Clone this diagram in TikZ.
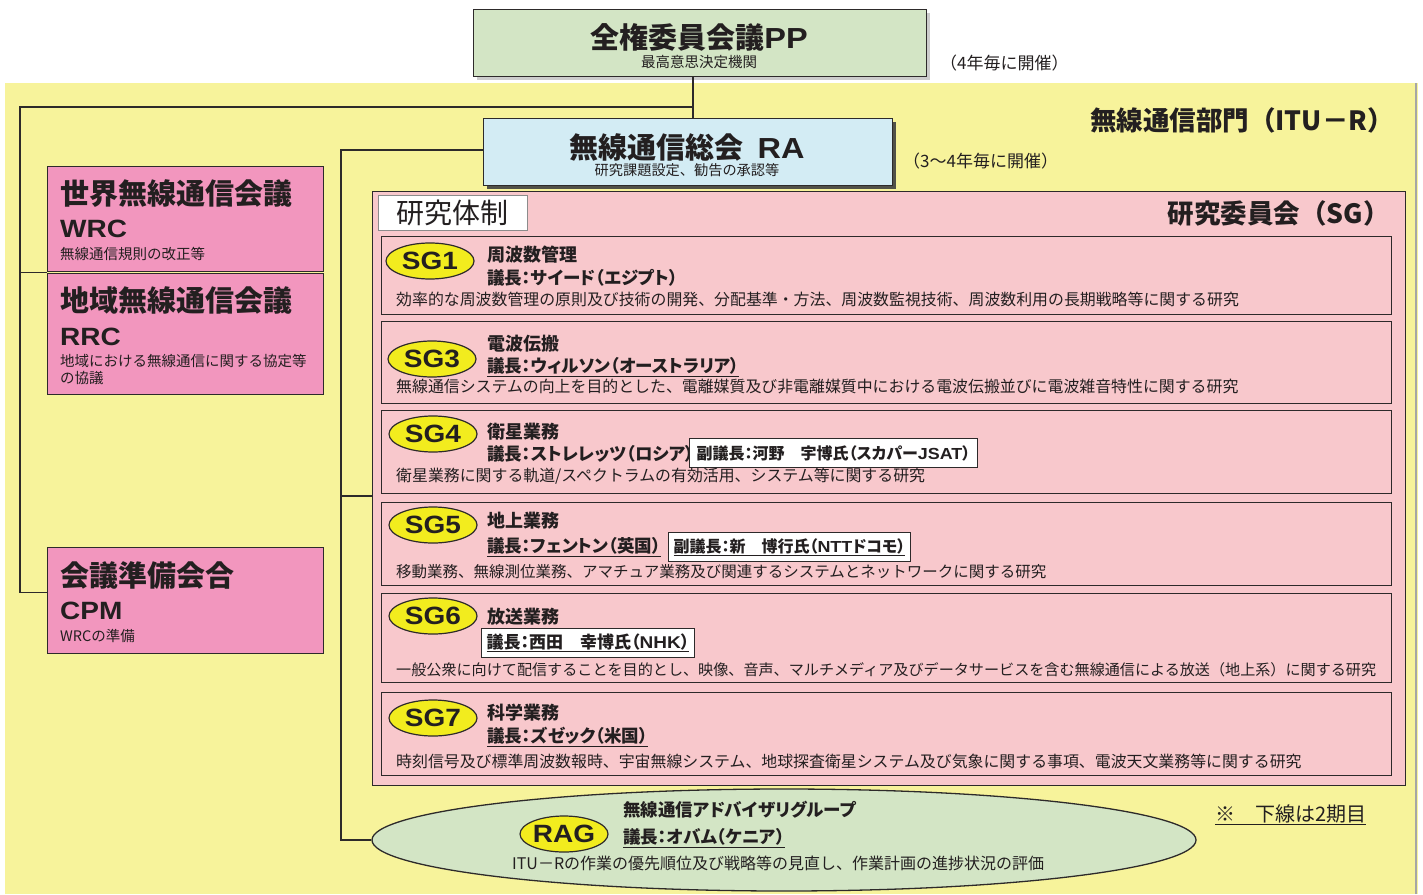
\documentclass[tikz,border=0pt]{standalone}
\usepackage{fontspec}
\setmainfont{Noto Sans CJK JP}
\newfontfamily\jpp{Noto Sans CJK JP}[RawFeature=+palt]
\newfontfamily\lat{Liberation Sans}[FakeStretch=1.12]
\usetikzlibrary{shapes.geometric,shadows}
\definecolor{ybg}{RGB}{247,243,155}
\definecolor{ppg}{RGB}{211,229,197}
\definecolor{rab}{RGB}{211,236,244}
\definecolor{pk}{RGB}{242,150,190}
\definecolor{sgp}{RGB}{248,200,204}
\definecolor{ey}{RGB}{242,236,30}
\definecolor{lc}{RGB}{45,42,42}
\definecolor{tx}{RGB}{35,31,32}
\newcommand{\fsz}[1]{\fontsize{#1}{#1}\selectfont}
\tikzset{
  box/.style={draw=lc, line width=1.3pt, anchor=north west, inner sep=0pt},
  conn/.style={draw=lc, line width=1.5pt},
  tl/.style={anchor=west, inner sep=0pt, text=tx},
  tc/.style={anchor=center, inner sep=0pt, text=tx},
  ttl/.style={tl, font=\jpp\bfseries\fsz{18}},
  chair/.style={tl, font=\jpp\bfseries\fsz{17.5}},
  desc/.style={tl, font=\fsz{15.9}},
  sge/.style={ellipse, draw=lc, line width=1.2pt, fill=ey, minimum width=88, minimum height=36, inner sep=0pt, font=\lat\bfseries\fsz{25}, text=tx},
  vbox/.style={draw=lc, line width=1pt, fill=white, inner xsep=5pt, inner ysep=0pt, minimum height=29, anchor=west, font=\jpp\bfseries\fsz{16}, text=tx},
  big/.style={tl, font=\bfseries\fsz{29}},
  abbr/.style={tl, font=\lat\bfseries\fsz{25}},
  small/.style={tl, font=\fsz{14.5}},
}
\begin{document}
\begin{tikzpicture}[x=1pt,y=-1pt]
\useasboundingbox (0,0) rectangle (1423,894);
% yellow background (ITU-R)
\fill[ybg] (5,83) rectangle (1418,894);
\draw[black!35, line width=1.2pt] (1416,83) -- (1416,894);
\node[tl, anchor=east, font=\bfseries\fsz{26.5}] (itur) at (1394,120) {無線通信部門（ITU－R）};

% boxes
\node[box, fill=ppg, minimum width=453, minimum height=67, drop shadow={fill=black!20, shadow xshift=3pt, shadow yshift=-3pt, opacity=1}] (pp) at (473,9) {};
\node[box, fill=rab, minimum width=409, minimum height=67] (ra) at (483,118) {};

% left boxes
\node[box, fill=pk, minimum width=276, minimum height=105] (wrc) at (47,166) {};
\node[box, fill=pk, minimum width=276, minimum height=121] (rrc) at (47,273) {};
\node[box, fill=pk, minimum width=276, minimum height=106] (cpm) at (47,547) {};

% SG outer box
\node[box, fill=sgp, minimum width=1033, minimum height=594] (sg) at (372,191) {};

% RAG ellipse
\node[ellipse, draw=lc, line width=1.3pt, fill=ppg, minimum width=824, minimum height=102, inner sep=0pt] (rag) at (784,840) {};

% connectors
\coordinate (j1) at (693,107);
\coordinate (lb) at (20,107);
\coordinate (rb) at (341,150);
\path ([yshift=8pt]cpm.west) coordinate (cpmc);
\path ([yshift=-7.5pt]sg.west) coordinate (sgc);
\draw[conn] (pp.south -| j1) -- (ra.north -| j1);
\draw[conn] (j1) -- (lb) |- (cpmc);
\draw[conn] (lb |- wrc.south) -- (wrc.south west);
\draw[conn] (ra.west |- rb) -- (rb) |- (rag.west);
\draw[conn] (rb |- sgc) -- (sgc);

% RA box on top with shadow
\node[box, fill=rab, minimum width=409, minimum height=67, drop shadow={fill=black!75, shadow xshift=3pt, shadow yshift=-3pt, opacity=0.9}] (ra2) at (483,118) {};

% PP texts
\node[tc, font=\bfseries\fsz{29}] (ppt) at (699,37) {全権委員会議\lat PP};
\node[tc, font=\fsz{14.5}] (pps) at (699,62) {最高意思決定機関};
\node[tl, font=\fsz{17}] (pp4) at (940,63) {（4年毎に開催）};

% RA texts
\node[tc, font=\bfseries\fsz{29}] (rat) at (687,147) {無線通信総会\hspace{14pt}{\lat RA}};
\node[tc, font=\fsz{14.2}] (ras) at (687,170) {研究課題設定、勧告の承認等};
\node[tl, font=\fsz{17}] (ra34) at (903,161) {（3～4年毎に開催）};

% left texts
\node[big] (wrct) at (60,194) {世界無線通信会議};
\node[abbr] (wrca) at (60,229) {WRC};
\node[small] (wrcd) at (60,254) {無線通信規則の改正等};
\node[big] (rrct) at (60,300) {地域無線通信会議};
\node[abbr] (rrca) at (60,337) {RRC};
\node[small] (rrcd1) at (60,361) {地域における無線通信に関する協定等};
\node[small] (rrcd2) at (60,378) {の協議};
\node[big] (cpmt) at (60,575) {会議準備会合};
\node[abbr] (cpma) at (60,611) {CPM};
\node[small] (cpmd) at (60,636) {WRCの準備};

% SG header
\node[draw=black!45, line width=0.8pt, fill=white, minimum width=149, minimum height=35, inner sep=0pt, font=\fsz{28}, text=tx] (kt) at (452.5,212.5) {研究体制};
\node[tl, anchor=east, font=\bfseries\fsz{26.5}] (sgt) at (1390,213) {研究委員会（SG）};

% rows
\node[box, minimum width=1010, minimum height=78] (r1) at (381,236) {};
\node[box, minimum width=1010, minimum height=82] (r3) at (381,321) {};
\node[box, minimum width=1010, minimum height=83] (r4) at (381,410) {};
\node[box, minimum width=1010, minimum height=83] (r5) at (381,502) {};
\node[box, minimum width=1010, minimum height=89] (r6) at (381,593) {};
\node[box, minimum width=1010, minimum height=83] (r7) at (381,692) {};

% SG1
\node[sge] (e1) at (430,261) {SG1};
\node[ttl] (t1) at (487,255) {周波数管理};
\node[chair] (c1) at (487,278) {議長：サイード（エジプト）};
\node[desc] (d1) at (396,299) {効率的な周波数管理の原則及び技術の開発、分配基準・方法、周波数監視技術、周波数利用の長期戦略等に関する研究};
% SG3
\node[sge] (e3) at (432,359) {SG3};
\node[ttl] (t3) at (487,344) {電波伝搬};
\node[chair] (c3) at (487,367) {\underline{議長：ウィルソン（オーストラリア）}};
\node[desc] (d3) at (396,387) {無線通信システムの向上を目的とした、電離媒質及び非電離媒質中における電波伝搬並びに電波雑音特性に関する研究};
% SG4
\node[sge] (e4) at (433,434) {SG4};
\node[ttl] (t4) at (487,432) {衛星業務};
\node[chair] (c4) at (487,454) {議長：ストレレッツ（ロシア）};
\node[vbox, minimum width=288] (v4) at (689,453) {副議長：河野　宇博氏（スカパー{\lat JSAT}）};
\node[desc] (d4) at (396,476) {衛星業務に関する軌道/スペクトラムの有効活用、システム等に関する研究};
% SG5
\node[sge] (e5) at (433,525) {SG5};
\node[ttl] (t5) at (487,521) {地上業務};
\node[chair] (c5) at (487,547) {\underline{議長：フェントン（英国）}};
\node[vbox, minimum width=235] (v5) at (668,547) {\underline{副議長：新　博行氏（{\lat NTT}ドコモ）}};
\node[desc, font=\fsz{15.5}] (d5) at (396,572) {移動業務、無線測位業務、アマチュア業務及び関連するシステムとネットワークに関する研究};
% SG6
\node[sge] (e6) at (433,616) {SG6};
\node[ttl] (t6) at (487,617) {放送業務};
\node[vbox, minimum width=203, font=\jpp\bfseries\fsz{17}] (v6) at (481,643) {\underline{議長：西田　幸博氏（{\lat NHK}）}};
\node[desc, font=\fsz{15.1}] (d6) at (396,670) {一般公衆に向けて配信することを目的とし、映像、音声、マルチメディア及びデータサービスを含む無線通信による放送（地上系）に関する研究};
% SG7
\node[sge] (e7) at (433,718) {SG7};
\node[ttl] (t7) at (487,713) {科学業務};
\node[chair] (c7) at (487,737) {\underline{議長：ズゼック（米国）}};
\node[desc] (d7) at (396,761) {時刻信号及び標準周波数報時、宇宙無線システム、地球探査衛星システム及び気象に関する事項、電波天文業務等に関する研究};

% RAG texts
\node[sge, minimum width=84] (eR) at (564,834) {RAG};
\node[tl, font=\jpp\bfseries\fsz{17.5}] (ragt) at (623,810) {無線通信アドバイザリグループ};
\node[tl, font=\jpp\bfseries\fsz{17.5}] (ragc) at (623,838) {\underline{議長：オバム（ケニア）}};
\node[tl, font=\fsz{16}] (ragd) at (512,863) {ITU－Rの作業の優先順位及び戦略等の見直し、作業計画の進捗状況の評価};
\node[tl, font=\fsz{20}] (note) at (1215,815) {\underline{※　下線は2期目}};
\end{tikzpicture}
\end{document}
